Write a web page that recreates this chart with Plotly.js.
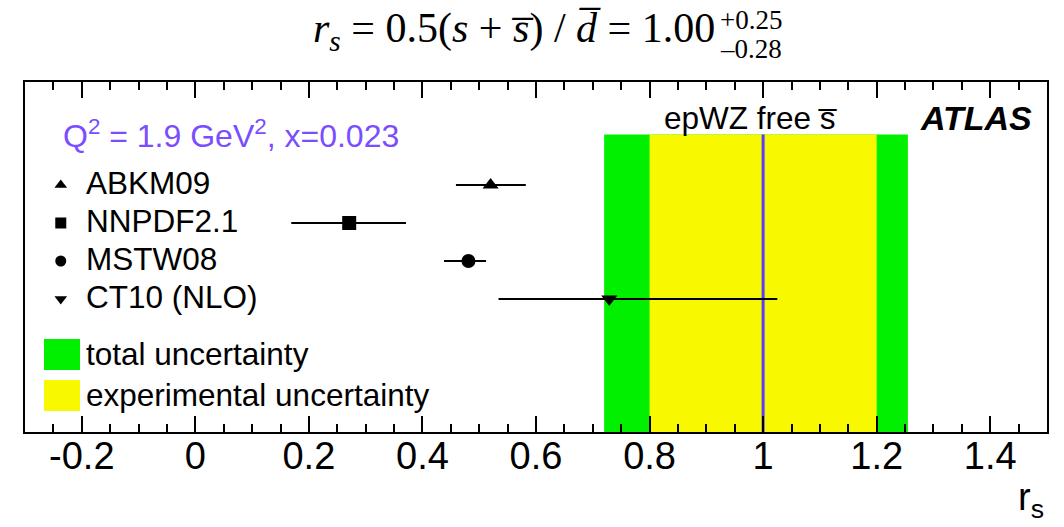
<!DOCTYPE html>
<html>
<head>
<meta charset="utf-8">
<script src="https://cdn.plot.ly/plotly-3.0.1.min.js"></script>
<style>
html,body{margin:0;padding:0;background:#fff;}
#chart{width:1064px;height:527px;}
</style>
</head>
<body>
<div id="chart"></div>
<script>
// ---- data ----
const pdfNames = ["ABKM09", "NNPDF2.1", "MSTW08", "CT10 (NLO)"];
const rsValues = [0.520, 0.271, 0.481, 0.729];
const rsErrMinus = [0.061, 0.102, 0.043, 0.195];
const rsErrPlus = [0.062, 0.100, 0.031, 0.296];
const pdfSymbols = ["triangle-up", "square", "circle", "triangle-down"];
const fitCentral = 1.00;
const totalBand = [0.72, 1.255];
const expBand = [0.80, 1.20];
const bandLabels = ["total uncertainty", "experimental uncertainty"];
const xTickVals = [-0.2, 0, 0.2, 0.4, 0.6, 0.8, 1, 1.2, 1.4];
const xTickText = ["-0.2", "0", "0.2", "0.4", "0.6", "0.8", "1", "1.2", "1.4"];

// ---- layout helpers (pixel -> paper) ----
const W = 1064, H = 527;
const M = {l: 25, r: 17, t: 82, b: 95};
const PW = W - M.l - M.r, PH = H - M.t - M.b;
const px = x => (x - M.l) / PW;
const py = y => (M.t + PH - y) / PH;

const GREEN = "#00f000";
const YELLOW = "#f8f800";
const BLUE = "#5a3cff";
const PURPLE = "#7a4dff";
const SANS = "Liberation Sans, Arial, sans-serif";
const SERIF = "Liberation Serif, Times New Roman, serif";

const legendKeyX = -0.237;
const rowOrder = pdfNames.slice().reverse(); // bottom-to-top

const traces = [
  {
    type: "scatter", mode: "markers",
    x: rsValues, y: pdfNames,
    marker: {symbol: pdfSymbols, size: 14, color: "black"},
    error_x: {type: "data", symmetric: false, array: rsErrPlus, arrayminus: rsErrMinus,
              width: 0, thickness: 2, color: "black"},
    hoverinfo: "x+y", showlegend: false
  },
  {
    type: "scatter", mode: "markers",
    x: pdfNames.map(() => legendKeyX), y: pdfNames,
    marker: {symbol: pdfSymbols, size: 11, color: "black"},
    hoverinfo: "skip", showlegend: false
  }
];

const bandTop = py(134.5);
const shapes = [
  {type: "rect", xref: "x", yref: "paper", x0: totalBand[0], x1: totalBand[1], y0: 0, y1: bandTop,
   fillcolor: GREEN, line: {width: 0}, layer: "below"},
  {type: "rect", xref: "x", yref: "paper", x0: expBand[0], x1: expBand[1], y0: 0, y1: bandTop,
   fillcolor: YELLOW, line: {width: 0}, layer: "below"},
  {type: "line", xref: "x", yref: "paper", x0: fitCentral, x1: fitCentral, y0: 0, y1: bandTop,
   line: {color: BLUE, width: 3}, layer: "below"},
  // legend boxes
  {type: "rect", xref: "paper", yref: "paper", x0: px(44), x1: px(80), y0: py(370), y1: py(339),
   fillcolor: GREEN, line: {width: 0}},
  {type: "rect", xref: "paper", yref: "paper", x0: px(44), x1: px(80), y0: py(411), y1: py(380),
   fillcolor: YELLOW, line: {width: 0}}
];

const annotations = [
  // title
  {xref: "paper", yref: "paper", x: px(717), y: py(31), xanchor: "right", yanchor: "middle",
   text: "<i>r</i><sub><i>s</i></sub> = 0.5(<i>s</i> + <i>s\u0305</i>) / <i>d\u0305</i> = 1.00",
   showarrow: false, font: {family: SERIF, size: 42, color: "black"}},
  {xref: "paper", yref: "paper", x: px(718), y: py(20), xanchor: "left", yanchor: "middle",
   text: "+0.25", showarrow: false, font: {family: SERIF, size: 27, color: "black"}},
  {xref: "paper", yref: "paper", x: px(718), y: py(49), xanchor: "left", yanchor: "middle",
   text: "\u20130.28", showarrow: false, font: {family: SERIF, size: 27, color: "black"}},
  // Q2 label
  {xref: "paper", yref: "paper", x: px(61), y: py(134), xanchor: "left", yanchor: "middle",
   text: "Q<sup>2</sup> = 1.9 GeV<sup>2</sup>, x=0.023", showarrow: false,
   font: {family: SANS, size: 32, color: PURPLE}},
  // epWZ label
  {xref: "paper", yref: "paper", x: px(750), y: py(118), xanchor: "center", yanchor: "middle",
   text: "epWZ free s\u0305", showarrow: false, font: {family: SANS, size: 31.5, color: "black"}},
  // ATLAS
  {xref: "paper", yref: "paper", x: px(1034), y: py(118), xanchor: "right", yanchor: "middle",
   text: "<b><i>ATLAS</i></b>", showarrow: false, font: {family: SANS, size: 34, color: "black"}},
  // axis title
  {xref: "paper", yref: "paper", x: px(1046), y: py(500), xanchor: "right", yanchor: "middle",
   text: "r<sub>s</sub>", showarrow: false, font: {family: SANS, size: 38, color: "black"}}
];
pdfNames.forEach(n => annotations.push({
  xref: "paper", yref: "y", x: px(84), y: n, xanchor: "left", yanchor: "middle", yshift: 2,
  text: n, showarrow: false, font: {family: SANS, size: 31.5, color: "black"}
}));
annotations.push({xref: "paper", yref: "paper", x: px(84), y: py(354), xanchor: "left", yanchor: "middle",
  text: bandLabels[0], showarrow: false, font: {family: SANS, size: 31.5, color: "black"}});
annotations.push({xref: "paper", yref: "paper", x: px(84), y: py(395), xanchor: "left", yanchor: "middle",
  text: bandLabels[1], showarrow: false, font: {family: SANS, size: 31.5, color: "black"}});

const layout = {
  width: W, height: H,
  margin: M,
  paper_bgcolor: "white", plot_bgcolor: "rgba(0,0,0,0)",
  showlegend: false,
  xaxis: {
    range: [-0.3, 1.5], tickmode: "array", tickvals: xTickVals, ticktext: xTickText,
    ticks: "inside", ticklen: 16, tickwidth: 2, tickcolor: "black",
    minor: {dtick: 0.05, ticks: "inside", ticklen: 8, tickwidth: 2, tickcolor: "black", showgrid: false},
    showline: true, linewidth: 2, linecolor: "black", mirror: "allticks",
    showgrid: false, zeroline: false, layer: "above traces",
    ticklabelstandoff: -11,
    tickfont: {family: SANS, size: 38, color: "black"}
  },
  yaxis: {
    type: "category", categoryorder: "array", categoryarray: rowOrder,
    range: [-3.5, 5.71],
    showticklabels: false, ticks: "",
    showline: true, linewidth: 2, linecolor: "black", mirror: true,
    showgrid: false, zeroline: false
  },
  shapes: shapes,
  annotations: annotations
};

Plotly.newPlot("chart", traces, layout, {displayModeBar: false, staticPlot: true});
</script>
</body>
</html>
